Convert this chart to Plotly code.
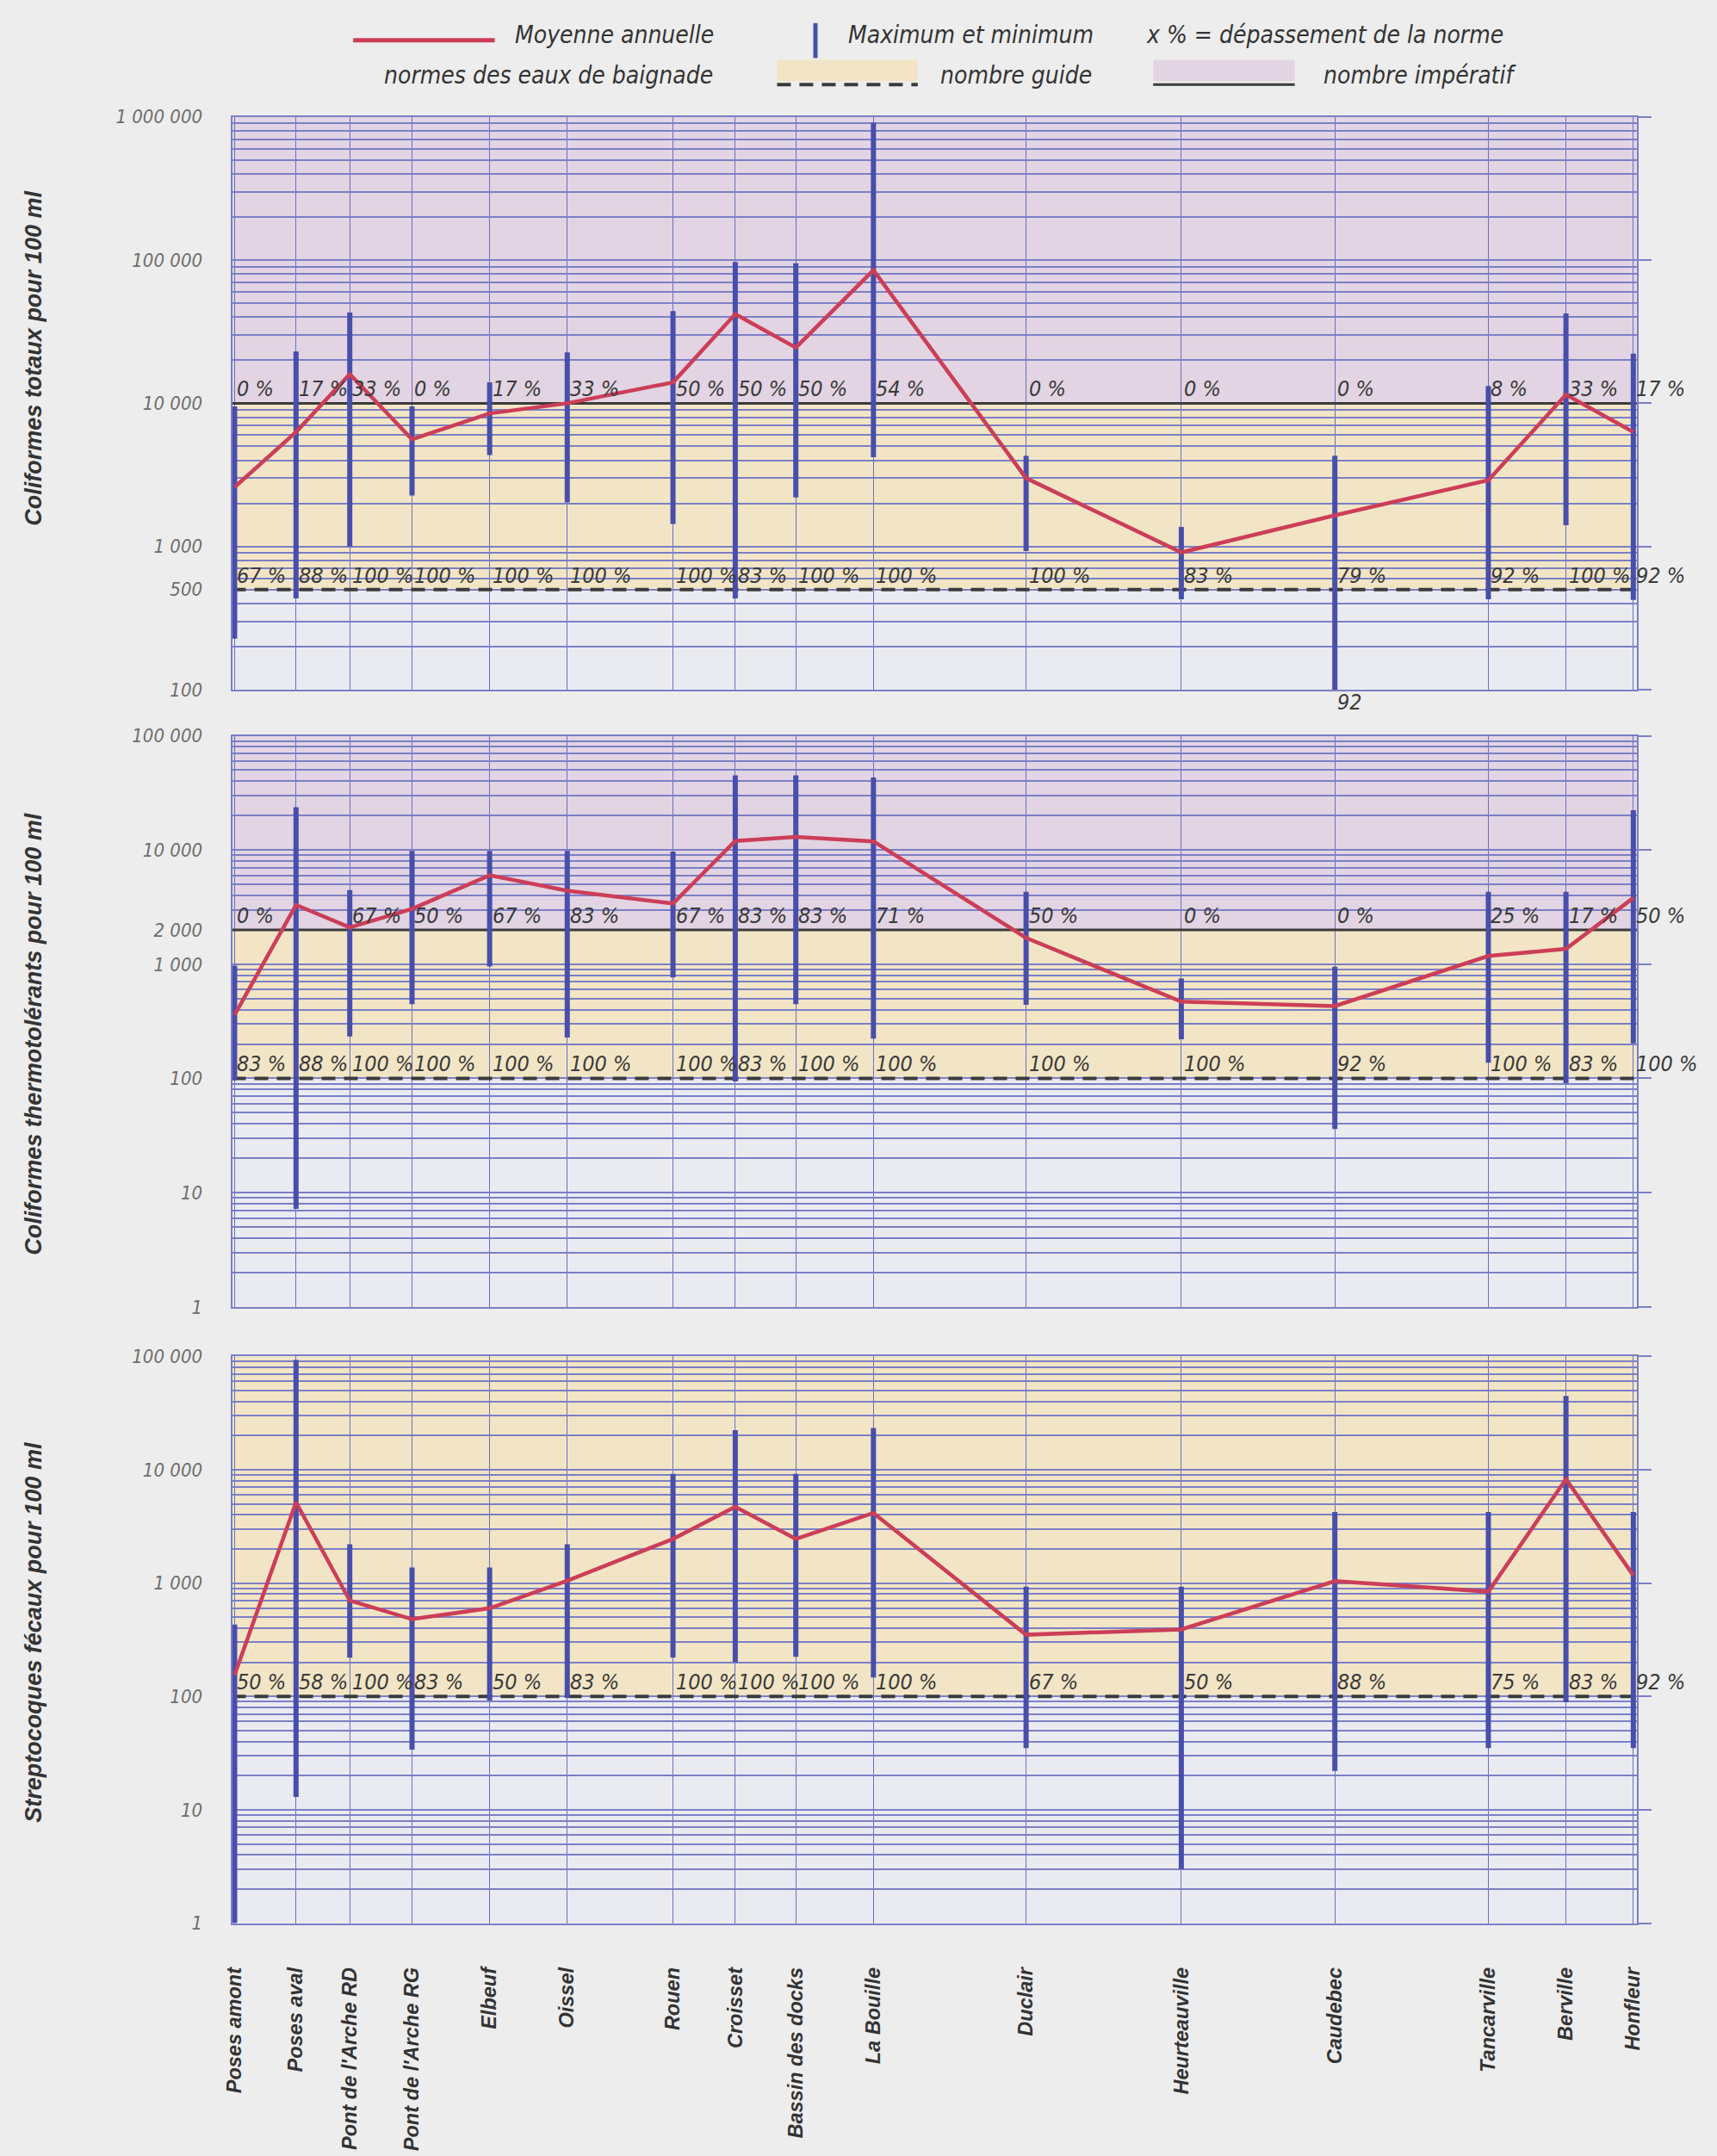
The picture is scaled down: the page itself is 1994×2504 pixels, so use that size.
import numpy as np
import plotly.graph_objects as go

W, H = 1994, 2504

# ---------------- data ----------------
stations = ["Poses amont", "Poses aval", "Pont de l'Arche RD", "Pont de l'Arche RG",
            "Elbeuf", "Oissel", "Rouen", "Croisset", "Bassin des docks", "La Bouille",
            "Duclair", "Heurteauville", "Caudebec", "Tancarville", "Berville", "Honfleur"]
# horizontal placement of each station along the chart (layout, pixels)
station_x = [265, 337, 400, 473, 564, 655, 779, 852, 923, 1014, 1193, 1375, 1555, 1735, 1826, 1905]

# Coliformes totaux pour 100 ml
ct_mean = [2600, 6300, 16000, 5600, 8500, 10000, 14000, 42000, 24500, 85000, 3000, 910, 1650, 2900, 11500, 6300]
ct_max = [9500, 23000, 43000, 9500, 14000, 22700, 44000, 97000, 95000, 910000, 4300, 1370, 4300, 13200, 42500, 22200]
ct_min = [227, 434, 1000, 2270, 4350, 2030, 1440, 434, 2200, 4200, 930, 428, 92, 428, 1410, 423]
ct_pct_imp = [0, 17, 33, 0, 17, 33, 50, 50, 50, 54, 0, 0, 0, 8, 33, 17]
ct_pct_guide = [67, 88, 100, 100, 100, 100, 100, 83, 100, 100, 100, 83, 79, 92, 100, 92]

# Coliformes thermotolérants pour 100 ml
tt_mean = [360, 3300, 2100, 3050, 6000, 4400, 3400, 12000, 13000, 11900, 1700, 470, 430, 1180, 1360, 3800]
tt_max = [970, 23700, 4450, 9800, 9800, 9800, 9700, 45000, 45000, 43000, 4300, 750, 950, 4300, 4300, 22300]
tt_min = [96, 7.2, 233, 447, 955, 228, 766, 94, 447, 223, 440, 220, 36, 137, 91, 203]
tt_pct_imp = [0, None, 67, 50, 67, 83, 67, 83, 83, 71, 50, 0, 0, 25, 17, 50]
tt_pct_guide = [83, 88, 100, 100, 100, 100, 100, 83, 100, 100, 100, 100, 92, 100, 83, 100]

# Streptocoques fécaux pour 100 ml
sf_mean = [155, 5150, 700, 480, 600, 1050, 2450, 4700, 2450, 4150, 350, 390, 1040, 840, 8250, 1170]
sf_max = [430, 93000, 2200, 1370, 1370, 2200, 9200, 22300, 9200, 23300, 930, 930, 4230, 4230, 44700, 4230]
sf_min = [1, 13, 220, 34, 92, 97, 220, 200, 224, 147, 35, 3, 22, 35, 89, 35]
sf_pct_guide = [50, 58, 100, 83, 50, 83, 100, 100, 100, 100, 67, 50, 88, 75, 83, 92]

# norms (nombre guide / nombre imperatif)
ct_guide, ct_imp = 500, 10000
tt_guide, tt_imp = 100, 2000
sf_guide, sf_imp = 100, None

ct_tick_vals = [100, 500, 1000, 10000, 100000, 1000000]
ct_tick_text = ["100", "500", "1 000", "10 000", "100 000", "1 000 000"]
tt_tick_vals = [1, 10, 100, 1000, 2000, 10000, 100000]
tt_tick_text = ["1", "10", "100", "1 000", "2 000", "10 000", "100 000"]
sf_tick_vals = [1, 10, 100, 1000, 10000, 100000]
sf_tick_text = ["1", "10", "100", "1 000", "10 000", "100 000"]

titles = ["Coliformes totaux pour 100 ml",
          "Coliformes thermotolérants pour 100 ml",
          "Streptocoques fécaux pour 100 ml"]

# ---------------- style ----------------
PURPLE = "#e2d4e2"
YELLOW = "#f2e5c5"
LOW = "#eaebf1"
PAGE = "#ededed"
GRID = "#7b7fc6"
VGRID = "#6a6ec2"
BAR = "#484eaa"
RED = "#cc3e58"
NORMC = "#3b3b3b"
NARROW = "Liberation Sans Narrow, Arial Narrow, DejaVu Sans Condensed, sans-serif"
SANS = "Liberation Sans, Arial, Helvetica, sans-serif"

panels = [
    dict(mean=ct_mean, mx=ct_max, mn=ct_min, pimp=ct_pct_imp, pguide=ct_pct_guide,
         guide=ct_guide, imp=ct_imp, rng=[2, 6], tv=ct_tick_vals, tt=ct_tick_text,
         top=125, bottom=797, title_y=408),
    dict(mean=tt_mean, mx=tt_max, mn=tt_min, pimp=tt_pct_imp, pguide=tt_pct_guide,
         guide=tt_guide, imp=tt_imp, rng=[0, 5], tv=tt_tick_vals, tt=tt_tick_text,
         top=851, bottom=1521, title_y=1201),
    dict(mean=sf_mean, mx=sf_max, mn=sf_min, pimp=None, pguide=sf_pct_guide,
         guide=sf_guide, imp=sf_imp, rng=[0, 5], tv=sf_tick_vals, tt=sf_tick_text,
         top=1579, bottom=2244, title_y=1903),
]

XL, XR = 262, 1909

fig = go.Figure()
shapes = []
annotations = []
layout_axes = {}

for i, p in enumerate(panels):
    k = i + 1
    sfx = "" if k == 1 else str(k)
    xa, ya = "x" + sfx, "y" + sfx
    ovl = "y" + str(k + 3)

    # grid values (every 1..9 x decade)
    lo, hi = p["rng"]
    grid_vals = [m * 10 ** e for e in range(lo, hi) for m in range(1, 10)] + [10 ** hi]
    lab = dict(zip(p["tv"], p["tt"]))
    grid_text = [lab.get(v, "") for v in grid_vals]

    # backgrounds
    ytop = 10 ** hi
    yel_top = p["imp"] if p["imp"] else ytop
    shapes.append(dict(type="rect", xref=xa, yref=ya, x0=XL, x1=XR,
                       y0=p["guide"], y1=yel_top, fillcolor=YELLOW, line=dict(width=0), layer="below"))
    if p["imp"]:
        shapes.append(dict(type="rect", xref=xa, yref=ya, x0=XL, x1=XR,
                           y0=p["imp"], y1=ytop, fillcolor=PURPLE, line=dict(width=0), layer="below"))
        shapes.append(dict(type="line", xref=xa, yref=ya, x0=XL, x1=XR,
                           y0=p["imp"], y1=p["imp"], line=dict(color=NORMC, width=3), layer="between"))
    shapes.append(dict(type="line", xref=xa, yref=ya, x0=XL, x1=XR,
                       y0=p["guide"], y1=p["guide"], line=dict(color=NORMC, width=4, dash="16px,10px"),
                       layer="between"))

    # min/max bars
    bx, by = [], []
    for x, a, b in zip(station_x, p["mn"], p["mx"]):
        bx += [x, x, None]
        by += [a, b, None]
    fig.add_trace(go.Scatter(x=bx, y=by, mode="lines", line=dict(color=BAR, width=6),
                             xaxis=xa, yaxis=ya, hoverinfo="skip", showlegend=False))
    # annual mean
    fig.add_trace(go.Scatter(x=station_x, y=p["mean"], mode="lines", line=dict(color=RED, width=4.5),
                             xaxis=xa, yaxis=ya, hoverinfo="skip", showlegend=False))
    # dummy for right-hand decade ticks
    fig.add_trace(go.Scatter(x=[None], y=[None], xaxis=xa, yaxis=ovl, showlegend=False, hoverinfo="skip"))

    # percentage labels
    pfont = dict(family=NARROW, size=25, color="#3a3a3a", style="italic")
    if p["pimp"]:
        for x, v in zip(station_x, p["pimp"]):
            if v is None:
                continue
            annotations.append(dict(x=x, y=np.log10(p["imp"]), xref=xa, yref=ya, text=f"{v} %",
                                    xanchor="left", yanchor="bottom", showarrow=False, font=pfont, xshift=1))
    for x, v in zip(station_x, p["pguide"]):
        annotations.append(dict(x=x, y=np.log10(p["guide"]), xref=xa, yref=ya, text=f"{v} %",
                                xanchor="left", yanchor="bottom", showarrow=False, font=pfont, xshift=1))
    # minima below axis
    for x, v in zip(station_x, p["mn"]):
        if v < 10 ** lo:
            annotations.append(dict(x=x, y=lo, xref=xa, yref=ya, text=f"{v}",
                                    xanchor="left", yanchor="top", showarrow=False, font=pfont,
                                    xshift=1, yshift=2))

    # y title
    annotations.append(dict(x=29 / W, y=1 - p["title_y"] / H, xref="paper", yref="paper",
                            text=titles[i], textangle=-90, showarrow=False,
                            xanchor="center", yanchor="middle",
                            font=dict(family=SANS, size=27, color="#343434", weight="bold", style="italic")))

    dom = [1 - p["bottom"] / H, 1 - p["top"] / H]
    layout_axes["xaxis" + sfx] = dict(
        domain=[XL / W, XR / W], range=[XL, XR], anchor=ya,
        tickvals=station_x, ticktext=stations, showticklabels=(k == 3),
        tickangle=-90, ticks="", ticklabelstandoff=40,
        tickfont=dict(family=SANS, size=23.5, color="#333333", weight="bold", style="italic"),
        showgrid=True, gridcolor=VGRID, gridwidth=1, zeroline=False,
        showline=True, linecolor=GRID, linewidth=2, mirror=True, fixedrange=True)
    layout_axes["yaxis" + sfx] = dict(
        domain=dom, type="log", range=p["rng"], anchor=xa,
        tickvals=grid_vals, ticktext=grid_text, ticks="", ticklabelstandoff=28,
        tickfont=dict(family=NARROW, size=22, color="#6e6e6e", style="italic"),
        showgrid=True, gridcolor=GRID, gridwidth=2, zeroline=False,
        showline=True, linecolor=GRID, linewidth=2, mirror=True, fixedrange=True)
    layout_axes["yaxis" + str(k + 3)] = dict(
        overlaying=ya, side="right", anchor=xa, type="log", range=p["rng"],
        tickvals=[10 ** e for e in range(lo, hi + 1)], ticks="outside", ticklen=16,
        tickwidth=2, tickcolor=GRID, showticklabels=False, showgrid=False,
        zeroline=False, showline=False, fixedrange=True)

# ---------------- legend (top) ----------------
def px(x):
    return x / W

def py(y):
    return 1 - y / H

lfont = dict(family=NARROW, size=28, color="#333333", style="italic")
shapes += [
    dict(type="line", xref="paper", yref="paper", x0=px(404), x1=px(570), y0=py(35), y1=py(35),
         line=dict(color=RED, width=5)),
    dict(type="line", xref="paper", yref="paper", x0=px(946), x1=px(946), y0=py(15), y1=py(56),
         line=dict(color=BAR, width=5)),
    dict(type="rect", xref="paper", yref="paper", x0=px(901), x1=px(1066), y0=py(83), y1=py(58),
         fillcolor=YELLOW, line=dict(width=0)),
    dict(type="line", xref="paper", yref="paper", x0=px(901), x1=px(1066), y0=py(87), y1=py(87),
         line=dict(color=NORMC, width=4, dash="16px,10px")),
    dict(type="rect", xref="paper", yref="paper", x0=px(1342), x1=px(1508), y0=py(83), y1=py(58),
         fillcolor=PURPLE, line=dict(width=0)),
    dict(type="line", xref="paper", yref="paper", x0=px(1342), x1=px(1508), y0=py(87), y1=py(87),
         line=dict(color=NORMC, width=3)),
]
legend_texts = [
    ("Moyenne annuelle", 592, 29, "left"),
    ("Maximum et minimum", 982, 29, "left"),
    ("x % = dépassement de la norme", 1332, 29, "left"),
    ("normes des eaux de baignade", 828, 76, "right"),
    ("nombre guide", 1090, 76, "left"),
    ("nombre impératif", 1540, 76, "left"),
]
for t, x, y, anc in legend_texts:
    annotations.append(dict(x=px(x), y=py(y), xref="paper", yref="paper", text=t,
                            xanchor=anc, yanchor="middle", showarrow=False, font=lfont))

fig.update_layout(
    width=W, height=H, autosize=False,
    margin=dict(l=0, r=0, t=0, b=0),
    paper_bgcolor=PAGE, plot_bgcolor=LOW,
    showlegend=False, shapes=shapes, annotations=annotations,
    **layout_axes,
)

fig.write_html("out.html", config={"displayModeBar": False},
               post_script="document.body.style.margin='0px';")
